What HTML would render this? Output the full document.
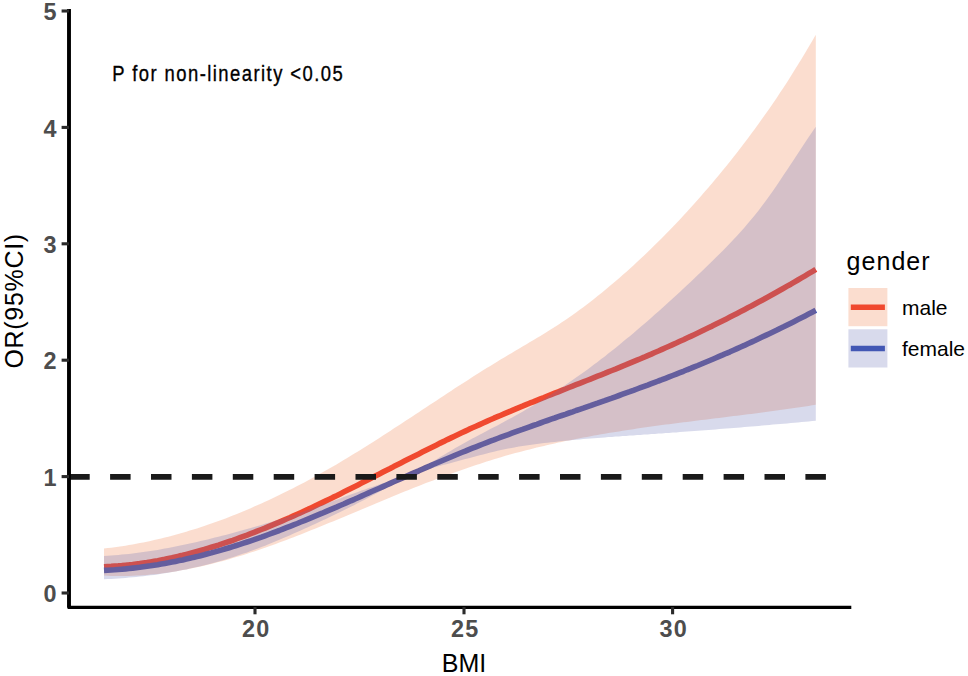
<!DOCTYPE html>
<html><head><meta charset="utf-8"><title>OR vs BMI</title>
<style>html,body{margin:0;padding:0;background:#fff;} svg{display:block;}</style>
</head><body>
<svg width="968" height="676" viewBox="0 0 968 676">
<rect width="968" height="676" fill="#fff"/>
<path d="M104.0,566.7 L107.6,566.5 L111.2,566.4 L114.7,566.1 L118.3,565.9 L121.9,565.6 L125.5,565.2 L129.0,564.9 L132.6,564.5 L136.2,564.0 L139.8,563.6 L143.3,563.0 L146.9,562.5 L150.5,561.9 L154.1,561.3 L157.7,560.7 L161.2,560.0 L164.8,559.3 L168.4,558.5 L172.0,557.8 L175.5,557.0 L179.1,556.1 L182.7,555.3 L186.3,554.4 L189.8,553.5 L193.4,552.5 L197.0,551.5 L200.6,550.5 L204.2,549.5 L207.7,548.4 L211.3,547.3 L214.9,546.2 L218.5,545.1 L222.0,543.9 L225.6,542.7 L229.2,541.5 L232.8,540.3 L236.3,539.0 L239.9,537.7 L243.5,536.4 L247.1,535.1 L250.7,533.7 L254.2,532.3 L257.8,530.9 L261.4,529.5 L265.0,528.1 L268.5,526.6 L272.1,525.1 L275.7,523.6 L279.3,522.1 L282.8,520.6 L286.4,519.0 L290.0,517.5 L293.6,515.9 L297.2,514.3 L300.7,512.7 L304.3,511.0 L307.9,509.4 L311.5,507.7 L315.0,506.0 L318.6,504.3 L322.2,502.6 L325.8,500.9 L329.3,499.2 L332.9,497.4 L336.5,495.7 L340.1,493.9 L343.7,492.1 L347.2,490.3 L350.8,488.5 L354.4,486.7 L358.0,484.9 L361.5,483.1 L365.1,481.3 L368.7,479.5 L372.3,477.6 L375.8,475.8 L379.4,474.0 L383.0,472.1 L386.6,470.3 L390.2,468.5 L393.7,466.6 L397.3,464.8 L400.9,463.0 L404.5,461.1 L408.0,459.3 L411.6,457.5 L415.2,455.7 L418.8,453.9 L422.3,452.1 L425.9,450.3 L429.5,448.5 L433.1,446.7 L436.7,444.9 L440.2,443.1 L443.8,441.4 L447.4,439.6 L451.0,437.9 L454.5,436.2 L458.1,434.5 L461.7,432.8 L465.3,431.1 L468.8,429.4 L472.4,427.8 L476.0,426.2 L479.6,424.6 L483.1,423.0 L486.7,421.4 L490.3,419.8 L493.9,418.2 L497.5,416.7 L501.0,415.2 L504.6,413.6 L508.2,412.1 L511.8,410.6 L515.3,409.1 L518.9,407.6 L522.5,406.2 L526.1,404.7 L529.6,403.2 L533.2,401.8 L536.8,400.3 L540.4,398.9 L544.0,397.5 L547.5,396.0 L551.1,394.6 L554.7,393.2 L558.3,391.8 L561.8,390.4 L565.4,389.0 L569.0,387.5 L572.6,386.1 L576.1,384.7 L579.7,383.3 L583.3,381.9 L586.9,380.5 L590.5,379.1 L594.0,377.7 L597.6,376.2 L601.2,374.8 L604.8,373.4 L608.3,371.9 L611.9,370.5 L615.5,369.1 L619.1,367.6 L622.6,366.1 L626.2,364.7 L629.8,363.2 L633.4,361.7 L637.0,360.2 L640.5,358.7 L644.1,357.2 L647.7,355.6 L651.3,354.1 L654.8,352.5 L658.4,351.0 L662.0,349.4 L665.6,347.8 L669.1,346.2 L672.7,344.6 L676.3,343.0 L679.9,341.3 L683.5,339.7 L687.0,338.0 L690.6,336.4 L694.2,334.7 L697.8,333.0 L701.3,331.3 L704.9,329.5 L708.5,327.8 L712.1,326.1 L715.6,324.3 L719.2,322.5 L722.8,320.7 L726.4,318.9 L730.0,317.1 L733.5,315.3 L737.1,313.4 L740.7,311.6 L744.3,309.7 L747.8,307.8 L751.4,306.0 L755.0,304.0 L758.6,302.1 L762.1,300.2 L765.7,298.2 L769.3,296.3 L772.9,294.3 L776.5,292.3 L780.0,290.3 L783.6,288.3 L787.2,286.2 L790.8,284.2 L794.3,282.1 L797.9,280.0 L801.5,277.9 L805.1,275.8 L808.6,273.7 L812.2,271.6 L815.8,269.4" fill="none" stroke="#F03A2A" stroke-width="5.6" stroke-linejoin="round"/>
<path d="M104.0,570.4 L107.6,570.2 L111.2,570.0 L114.7,569.8 L118.3,569.5 L121.9,569.2 L125.5,568.9 L129.0,568.5 L132.6,568.1 L136.2,567.7 L139.8,567.3 L143.3,566.8 L146.9,566.3 L150.5,565.8 L154.1,565.2 L157.7,564.7 L161.2,564.0 L164.8,563.4 L168.4,562.8 L172.0,562.1 L175.5,561.4 L179.1,560.6 L182.7,559.9 L186.3,559.1 L189.8,558.3 L193.4,557.4 L197.0,556.6 L200.6,555.7 L204.2,554.8 L207.7,553.8 L211.3,552.9 L214.9,551.9 L218.5,550.9 L222.0,549.9 L225.6,548.8 L229.2,547.7 L232.8,546.6 L236.3,545.5 L239.9,544.4 L243.5,543.2 L247.1,542.0 L250.7,540.8 L254.2,539.6 L257.8,538.3 L261.4,537.1 L265.0,535.8 L268.5,534.5 L272.1,533.2 L275.7,531.8 L279.3,530.5 L282.8,529.1 L286.4,527.7 L290.0,526.3 L293.6,524.9 L297.2,523.5 L300.7,522.0 L304.3,520.6 L307.9,519.1 L311.5,517.6 L315.0,516.2 L318.6,514.7 L322.2,513.2 L325.8,511.6 L329.3,510.1 L332.9,508.6 L336.5,507.1 L340.1,505.5 L343.7,504.0 L347.2,502.4 L350.8,500.8 L354.4,499.3 L358.0,497.7 L361.5,496.1 L365.1,494.5 L368.7,492.9 L372.3,491.3 L375.8,489.8 L379.4,488.2 L383.0,486.6 L386.6,485.0 L390.2,483.4 L393.7,481.8 L397.3,480.2 L400.9,478.6 L404.5,477.1 L408.0,475.5 L411.6,473.9 L415.2,472.3 L418.8,470.8 L422.3,469.2 L425.9,467.6 L429.5,466.1 L433.1,464.5 L436.7,463.0 L440.2,461.5 L443.8,460.0 L447.4,458.5 L451.0,457.0 L454.5,455.5 L458.1,454.0 L461.7,452.5 L465.3,451.1 L468.8,449.6 L472.4,448.2 L476.0,446.8 L479.6,445.4 L483.1,444.0 L486.7,442.6 L490.3,441.2 L493.9,439.9 L497.5,438.5 L501.0,437.2 L504.6,435.9 L508.2,434.6 L511.8,433.2 L515.3,431.9 L518.9,430.6 L522.5,429.4 L526.1,428.1 L529.6,426.8 L533.2,425.5 L536.8,424.3 L540.4,423.0 L544.0,421.7 L547.5,420.5 L551.1,419.2 L554.7,418.0 L558.3,416.7 L561.8,415.5 L565.4,414.3 L569.0,413.0 L572.6,411.8 L576.1,410.5 L579.7,409.3 L583.3,408.1 L586.9,406.8 L590.5,405.6 L594.0,404.3 L597.6,403.1 L601.2,401.8 L604.8,400.6 L608.3,399.3 L611.9,398.1 L615.5,396.8 L619.1,395.5 L622.6,394.2 L626.2,392.9 L629.8,391.7 L633.4,390.4 L637.0,389.0 L640.5,387.7 L644.1,386.4 L647.7,385.1 L651.3,383.7 L654.8,382.4 L658.4,381.0 L662.0,379.7 L665.6,378.3 L669.1,376.9 L672.7,375.5 L676.3,374.1 L679.9,372.7 L683.5,371.3 L687.0,369.8 L690.6,368.4 L694.2,366.9 L697.8,365.5 L701.3,364.0 L704.9,362.5 L708.5,361.0 L712.1,359.5 L715.6,358.0 L719.2,356.4 L722.8,354.9 L726.4,353.3 L730.0,351.8 L733.5,350.2 L737.1,348.6 L740.7,347.0 L744.3,345.4 L747.8,343.7 L751.4,342.1 L755.0,340.5 L758.6,338.8 L762.1,337.1 L765.7,335.4 L769.3,333.7 L772.9,332.0 L776.5,330.3 L780.0,328.5 L783.6,326.8 L787.2,325.0 L790.8,323.2 L794.3,321.4 L797.9,319.6 L801.5,317.8 L805.1,315.9 L808.6,314.1 L812.2,312.2 L815.8,310.3" fill="none" stroke="#3750B4" stroke-width="5.6" stroke-linejoin="round"/>
<path d="M104.0,548.5 L107.6,548.1 L111.2,547.7 L114.7,547.2 L118.3,546.7 L121.9,546.2 L125.5,545.7 L129.0,545.1 L132.6,544.5 L136.2,543.8 L139.8,543.1 L143.3,542.4 L146.9,541.7 L150.5,540.9 L154.1,540.1 L157.7,539.3 L161.2,538.5 L164.8,537.6 L168.4,536.7 L172.0,535.7 L175.5,534.8 L179.1,533.8 L182.7,532.8 L186.3,531.7 L189.8,530.6 L193.4,529.5 L197.0,528.4 L200.6,527.2 L204.2,526.0 L207.7,524.8 L211.3,523.6 L214.9,522.3 L218.5,521.0 L222.0,519.7 L225.6,518.4 L229.2,517.0 L232.8,515.6 L236.3,514.2 L239.9,512.7 L243.5,511.2 L247.1,509.7 L250.7,508.2 L254.2,506.6 L257.8,505.1 L261.4,503.5 L265.0,501.8 L268.5,500.2 L272.1,498.5 L275.7,496.8 L279.3,495.1 L282.8,493.3 L286.4,491.6 L290.0,489.8 L293.6,488.0 L297.2,486.1 L300.7,484.2 L304.3,482.4 L307.9,480.5 L311.5,478.5 L315.0,476.6 L318.6,474.6 L322.2,472.6 L325.8,470.6 L329.3,468.5 L332.9,466.5 L336.5,464.4 L340.1,462.3 L343.7,460.1 L347.2,458.0 L350.8,455.8 L354.4,453.6 L358.0,451.4 L361.5,449.2 L365.1,447.0 L368.7,444.7 L372.3,442.5 L375.8,440.2 L379.4,437.9 L383.0,435.6 L386.6,433.3 L390.2,431.0 L393.7,428.6 L397.3,426.3 L400.9,424.0 L404.5,421.6 L408.0,419.3 L411.6,416.9 L415.2,414.5 L418.8,412.2 L422.3,409.8 L425.9,407.5 L429.5,405.1 L433.1,402.7 L436.7,400.4 L440.2,398.0 L443.8,395.7 L447.4,393.3 L451.0,391.0 L454.5,388.6 L458.1,386.3 L461.7,384.0 L465.3,381.7 L468.8,379.4 L472.4,377.1 L476.0,374.8 L479.6,372.6 L483.1,370.3 L486.7,368.1 L490.3,365.9 L493.9,363.7 L497.5,361.5 L501.0,359.3 L504.6,357.2 L508.2,355.0 L511.8,352.9 L515.3,350.8 L518.9,348.7 L522.5,346.6 L526.1,344.5 L529.6,342.3 L533.2,340.2 L536.8,338.1 L540.4,335.9 L544.0,333.7 L547.5,331.5 L551.1,329.3 L554.7,327.0 L558.3,324.7 L561.8,322.3 L565.4,319.9 L569.0,317.5 L572.6,315.0 L576.1,312.4 L579.7,309.8 L583.3,307.2 L586.9,304.5 L590.5,301.7 L594.0,298.9 L597.6,296.1 L601.2,293.2 L604.8,290.3 L608.3,287.3 L611.9,284.3 L615.5,281.3 L619.1,278.2 L622.6,275.1 L626.2,271.9 L629.8,268.7 L633.4,265.4 L637.0,262.1 L640.5,258.8 L644.1,255.4 L647.7,252.0 L651.3,248.6 L654.8,245.1 L658.4,241.5 L662.0,237.9 L665.6,234.3 L669.1,230.7 L672.7,226.9 L676.3,223.2 L679.9,219.4 L683.5,215.6 L687.0,211.7 L690.6,207.7 L694.2,203.8 L697.8,199.8 L701.3,195.7 L704.9,191.6 L708.5,187.4 L712.1,183.2 L715.6,179.0 L719.2,174.7 L722.8,170.3 L726.4,165.9 L730.0,161.5 L733.5,157.0 L737.1,152.4 L740.7,147.8 L744.3,143.1 L747.8,138.4 L751.4,133.6 L755.0,128.8 L758.6,123.8 L762.1,118.8 L765.7,113.8 L769.3,108.7 L772.9,103.5 L776.5,98.2 L780.0,92.8 L783.6,87.4 L787.2,81.9 L790.8,76.3 L794.3,70.6 L797.9,64.8 L801.5,59.0 L805.1,53.1 L808.6,47.0 L812.2,40.9 L815.8,34.7 L815.8,404.7 L812.2,405.3 L808.6,405.9 L805.1,406.4 L801.5,407.0 L797.9,407.5 L794.3,408.0 L790.8,408.5 L787.2,409.1 L783.6,409.6 L780.0,410.1 L776.5,410.6 L772.9,411.1 L769.3,411.5 L765.7,412.0 L762.1,412.5 L758.6,412.9 L755.0,413.4 L751.4,413.9 L747.8,414.3 L744.3,414.8 L740.7,415.2 L737.1,415.7 L733.5,416.1 L730.0,416.6 L726.4,417.0 L722.8,417.4 L719.2,417.9 L715.6,418.3 L712.1,418.8 L708.5,419.2 L704.9,419.7 L701.3,420.1 L697.8,420.5 L694.2,421.0 L690.6,421.4 L687.0,421.9 L683.5,422.3 L679.9,422.8 L676.3,423.2 L672.7,423.7 L669.1,424.2 L665.6,424.6 L662.0,425.1 L658.4,425.6 L654.8,426.1 L651.3,426.6 L647.7,427.1 L644.1,427.6 L640.5,428.1 L637.0,428.6 L633.4,429.2 L629.8,429.7 L626.2,430.2 L622.6,430.8 L619.1,431.4 L615.5,431.9 L611.9,432.5 L608.3,433.1 L604.8,433.7 L601.2,434.3 L597.6,434.9 L594.0,435.6 L590.5,436.2 L586.9,436.9 L583.3,437.6 L579.7,438.2 L576.1,438.9 L572.6,439.7 L569.0,440.4 L565.4,441.1 L561.8,441.9 L558.3,442.6 L554.7,443.4 L551.1,444.2 L547.5,445.0 L544.0,445.9 L540.4,446.7 L536.8,447.6 L533.2,448.5 L529.6,449.4 L526.1,450.3 L522.5,451.2 L518.9,452.2 L515.3,453.1 L511.8,454.1 L508.2,455.1 L504.6,456.1 L501.0,457.2 L497.5,458.3 L493.9,459.3 L490.3,460.4 L486.7,461.6 L483.1,462.7 L479.6,463.9 L476.0,465.0 L472.4,466.2 L468.8,467.4 L465.3,468.7 L461.7,469.9 L458.1,471.2 L454.5,472.5 L451.0,473.7 L447.4,475.0 L443.8,476.4 L440.2,477.7 L436.7,479.0 L433.1,480.4 L429.5,481.8 L425.9,483.1 L422.3,484.5 L418.8,485.9 L415.2,487.3 L411.6,488.8 L408.0,490.2 L404.5,491.6 L400.9,493.1 L397.3,494.5 L393.7,496.0 L390.2,497.5 L386.6,499.0 L383.0,500.4 L379.4,501.9 L375.8,503.4 L372.3,504.9 L368.7,506.4 L365.1,507.9 L361.5,509.4 L358.0,510.9 L354.4,512.4 L350.8,513.9 L347.2,515.4 L343.7,516.9 L340.1,518.4 L336.5,519.9 L332.9,521.4 L329.3,522.8 L325.8,524.3 L322.2,525.8 L318.6,527.2 L315.0,528.7 L311.5,530.1 L307.9,531.6 L304.3,533.0 L300.7,534.4 L297.2,535.8 L293.6,537.2 L290.0,538.5 L286.4,539.9 L282.8,541.2 L279.3,542.6 L275.7,543.9 L272.1,545.2 L268.5,546.5 L265.0,547.7 L261.4,549.0 L257.8,550.2 L254.2,551.4 L250.7,552.6 L247.1,553.7 L243.5,554.9 L239.9,556.0 L236.3,557.1 L232.8,558.1 L229.2,559.2 L225.6,560.2 L222.0,561.2 L218.5,562.1 L214.9,563.0 L211.3,564.0 L207.7,564.8 L204.2,565.7 L200.6,566.5 L197.0,567.3 L193.4,568.1 L189.8,568.8 L186.3,569.5 L182.7,570.1 L179.1,570.8 L175.5,571.4 L172.0,571.9 L168.4,572.5 L164.8,573.0 L161.2,573.4 L157.7,573.9 L154.1,574.2 L150.5,574.6 L146.9,574.9 L143.3,575.2 L139.8,575.4 L136.2,575.6 L132.6,575.8 L129.0,575.9 L125.5,576.0 L121.9,576.0 L118.3,576.0 L114.7,576.0 L111.2,575.9 L107.6,575.8 L104.0,575.6 Z" fill="#EF773F" fill-opacity="0.25"/>
<path d="M104.0,555.9 L107.6,555.7 L111.2,555.5 L114.7,555.2 L118.3,554.9 L121.9,554.6 L125.5,554.3 L129.0,553.9 L132.6,553.5 L136.2,553.1 L139.8,552.6 L143.3,552.1 L146.9,551.6 L150.5,551.0 L154.1,550.5 L157.7,549.9 L161.2,549.2 L164.8,548.6 L168.4,547.9 L172.0,547.2 L175.5,546.5 L179.1,545.8 L182.7,545.1 L186.3,544.3 L189.8,543.5 L193.4,542.7 L197.0,541.9 L200.6,541.1 L204.2,540.2 L207.7,539.4 L211.3,538.5 L214.9,537.6 L218.5,536.7 L222.0,535.8 L225.6,534.9 L229.2,533.9 L232.8,533.0 L236.3,532.0 L239.9,531.0 L243.5,530.0 L247.1,529.0 L250.7,528.0 L254.2,527.0 L257.8,525.9 L261.4,524.9 L265.0,523.8 L268.5,522.7 L272.1,521.7 L275.7,520.6 L279.3,519.5 L282.8,518.3 L286.4,517.2 L290.0,516.0 L293.6,514.9 L297.2,513.7 L300.7,512.5 L304.3,511.3 L307.9,510.0 L311.5,508.8 L315.0,507.5 L318.6,506.2 L322.2,505.0 L325.8,503.7 L329.3,502.4 L332.9,501.1 L336.5,499.8 L340.1,498.4 L343.7,497.1 L347.2,495.8 L350.8,494.5 L354.4,493.2 L358.0,491.9 L361.5,490.6 L365.1,489.4 L368.7,488.1 L372.3,486.9 L375.8,485.7 L379.4,484.5 L383.0,483.3 L386.6,482.2 L390.2,481.0 L393.7,479.8 L397.3,478.6 L400.9,477.3 L404.5,475.9 L408.0,474.4 L411.6,472.8 L415.2,471.1 L418.8,469.3 L422.3,467.4 L425.9,465.4 L429.5,463.4 L433.1,461.3 L436.7,459.2 L440.2,457.1 L443.8,455.0 L447.4,452.8 L451.0,450.7 L454.5,448.6 L458.1,446.6 L461.7,444.5 L465.3,442.5 L468.8,440.5 L472.4,438.6 L476.0,436.7 L479.6,434.8 L483.1,432.9 L486.7,431.0 L490.3,429.1 L493.9,427.3 L497.5,425.4 L501.0,423.5 L504.6,421.6 L508.2,419.6 L511.8,417.7 L515.3,415.7 L518.9,413.7 L522.5,411.7 L526.1,409.6 L529.6,407.6 L533.2,405.4 L536.8,403.3 L540.4,401.1 L544.0,398.9 L547.5,396.7 L551.1,394.4 L554.7,392.1 L558.3,389.8 L561.8,387.4 L565.4,385.0 L569.0,382.6 L572.6,380.1 L576.1,377.6 L579.7,375.1 L583.3,372.5 L586.9,369.9 L590.5,367.2 L594.0,364.6 L597.6,361.9 L601.2,359.1 L604.8,356.4 L608.3,353.6 L611.9,350.7 L615.5,347.9 L619.1,345.0 L622.6,342.1 L626.2,339.1 L629.8,336.2 L633.4,333.2 L637.0,330.1 L640.5,327.1 L644.1,324.0 L647.7,320.9 L651.3,317.8 L654.8,314.6 L658.4,311.4 L662.0,308.2 L665.6,305.0 L669.1,301.8 L672.7,298.5 L676.3,295.2 L679.9,291.9 L683.5,288.6 L687.0,285.2 L690.6,281.9 L694.2,278.5 L697.8,275.1 L701.3,271.7 L704.9,268.2 L708.5,264.8 L712.1,261.3 L715.6,257.8 L719.2,254.3 L722.8,250.7 L726.4,247.0 L730.0,243.3 L733.5,239.6 L737.1,235.7 L740.7,231.8 L744.3,227.7 L747.8,223.6 L751.4,219.3 L755.0,214.9 L758.6,210.4 L762.1,205.7 L765.7,200.9 L769.3,195.9 L772.9,190.9 L776.5,185.7 L780.0,180.5 L783.6,175.1 L787.2,169.8 L790.8,164.3 L794.3,158.9 L797.9,153.5 L801.5,148.0 L805.1,142.6 L808.6,137.2 L812.2,131.9 L815.8,126.7 L815.8,420.7 L812.2,421.0 L808.6,421.4 L805.1,421.7 L801.5,422.0 L797.9,422.4 L794.3,422.7 L790.8,423.0 L787.2,423.4 L783.6,423.7 L780.0,424.0 L776.5,424.3 L772.9,424.6 L769.3,424.9 L765.7,425.2 L762.1,425.6 L758.6,425.9 L755.0,426.2 L751.4,426.5 L747.8,426.8 L744.3,427.1 L740.7,427.4 L737.1,427.7 L733.5,427.9 L730.0,428.2 L726.4,428.5 L722.8,428.8 L719.2,429.1 L715.6,429.4 L712.1,429.7 L708.5,429.9 L704.9,430.2 L701.3,430.5 L697.8,430.8 L694.2,431.0 L690.6,431.3 L687.0,431.6 L683.5,431.8 L679.9,432.1 L676.3,432.4 L672.7,432.6 L669.1,432.9 L665.6,433.1 L662.0,433.4 L658.4,433.6 L654.8,433.9 L651.3,434.1 L647.7,434.4 L644.1,434.6 L640.5,434.9 L637.0,435.1 L633.4,435.4 L629.8,435.6 L626.2,435.9 L622.6,436.1 L619.1,436.4 L615.5,436.6 L611.9,436.9 L608.3,437.1 L604.8,437.4 L601.2,437.7 L597.6,437.9 L594.0,438.2 L590.5,438.5 L586.9,438.8 L583.3,439.1 L579.7,439.4 L576.1,439.7 L572.6,440.0 L569.0,440.4 L565.4,440.7 L561.8,441.1 L558.3,441.5 L554.7,441.9 L551.1,442.3 L547.5,442.7 L544.0,443.1 L540.4,443.5 L536.8,444.0 L533.2,444.5 L529.6,445.0 L526.1,445.5 L522.5,446.0 L518.9,446.6 L515.3,447.2 L511.8,447.9 L508.2,448.6 L504.6,449.3 L501.0,450.0 L497.5,450.8 L493.9,451.7 L490.3,452.5 L486.7,453.4 L483.1,454.4 L479.6,455.3 L476.0,456.3 L472.4,457.2 L468.8,458.2 L465.3,459.1 L461.7,460.1 L458.1,461.1 L454.5,462.0 L451.0,463.0 L447.4,463.9 L443.8,464.8 L440.2,465.7 L436.7,466.7 L433.1,467.7 L429.5,468.7 L425.9,469.8 L422.3,471.0 L418.8,472.2 L415.2,473.6 L411.6,475.0 L408.0,476.5 L404.5,478.2 L400.9,480.0 L397.3,481.8 L393.7,483.7 L390.2,485.7 L386.6,487.7 L383.0,489.7 L379.4,491.7 L375.8,493.7 L372.3,495.6 L368.7,497.5 L365.1,499.4 L361.5,501.3 L358.0,503.1 L354.4,504.9 L350.8,506.7 L347.2,508.5 L343.7,510.3 L340.1,512.0 L336.5,513.8 L332.9,515.5 L329.3,517.2 L325.8,518.9 L322.2,520.6 L318.6,522.3 L315.0,523.9 L311.5,525.6 L307.9,527.2 L304.3,528.8 L300.7,530.5 L297.2,532.1 L293.6,533.6 L290.0,535.2 L286.4,536.8 L282.8,538.3 L279.3,539.8 L275.7,541.3 L272.1,542.8 L268.5,544.2 L265.0,545.7 L261.4,547.1 L257.8,548.4 L254.2,549.8 L250.7,551.1 L247.1,552.4 L243.5,553.6 L239.9,554.8 L236.3,556.0 L232.8,557.2 L229.2,558.3 L225.6,559.4 L222.0,560.5 L218.5,561.5 L214.9,562.5 L211.3,563.5 L207.7,564.4 L204.2,565.3 L200.6,566.2 L197.0,567.0 L193.4,567.8 L189.8,568.6 L186.3,569.4 L182.7,570.1 L179.1,570.8 L175.5,571.5 L172.0,572.1 L168.4,572.7 L164.8,573.3 L161.2,573.8 L157.7,574.4 L154.1,574.9 L150.5,575.3 L146.9,575.8 L143.3,576.2 L139.8,576.6 L136.2,577.0 L132.6,577.3 L129.0,577.6 L125.5,577.9 L121.9,578.2 L118.3,578.5 L114.7,578.7 L111.2,578.9 L107.6,579.1 L104.0,579.2 Z" fill="#636BB3" fill-opacity="0.25"/>
<line x1="69.2" y1="476.9" x2="826.5" y2="476.9" stroke="#1A1A1A" stroke-width="5.6" stroke-dasharray="20.5 20.4"/>
<line x1="69" y1="9" x2="69" y2="607.8" stroke="#000" stroke-width="3.9"/>
<line x1="67.6" y1="607.4" x2="851.3" y2="607.4" stroke="#000" stroke-width="3.2"/>
<line x1="61.6" y1="593.0" x2="69" y2="593.0" stroke="#2a2a2a" stroke-width="3.1"/>
<text x="56.4" y="602.1" text-anchor="end" font-family='"Liberation Sans", sans-serif' font-weight="bold" font-size="23.4" fill="#4D4D4D">0</text>
<line x1="61.6" y1="476.6" x2="69" y2="476.6" stroke="#2a2a2a" stroke-width="3.1"/>
<text x="56.4" y="485.7" text-anchor="end" font-family='"Liberation Sans", sans-serif' font-weight="bold" font-size="23.4" fill="#4D4D4D">1</text>
<line x1="61.6" y1="360.2" x2="69" y2="360.2" stroke="#2a2a2a" stroke-width="3.1"/>
<text x="56.4" y="369.3" text-anchor="end" font-family='"Liberation Sans", sans-serif' font-weight="bold" font-size="23.4" fill="#4D4D4D">2</text>
<line x1="61.6" y1="243.8" x2="69" y2="243.8" stroke="#2a2a2a" stroke-width="3.1"/>
<text x="56.4" y="252.9" text-anchor="end" font-family='"Liberation Sans", sans-serif' font-weight="bold" font-size="23.4" fill="#4D4D4D">3</text>
<line x1="61.6" y1="127.4" x2="69" y2="127.4" stroke="#2a2a2a" stroke-width="3.1"/>
<text x="56.4" y="136.5" text-anchor="end" font-family='"Liberation Sans", sans-serif' font-weight="bold" font-size="23.4" fill="#4D4D4D">4</text>
<line x1="61.6" y1="11.0" x2="69" y2="11.0" stroke="#2a2a2a" stroke-width="3.1"/>
<text x="56.4" y="20.1" text-anchor="end" font-family='"Liberation Sans", sans-serif' font-weight="bold" font-size="23.4" fill="#4D4D4D">5</text>
<line x1="255.0" y1="607" x2="255.0" y2="614.3" stroke="#2a2a2a" stroke-width="3.1"/>
<text x="256.2" y="636.8" text-anchor="middle" letter-spacing="1.2" font-family='"Liberation Sans", sans-serif' font-weight="bold" font-size="23.4" fill="#4D4D4D">20</text>
<line x1="464.0" y1="607" x2="464.0" y2="614.3" stroke="#2a2a2a" stroke-width="3.1"/>
<text x="465.2" y="636.8" text-anchor="middle" letter-spacing="1.2" font-family='"Liberation Sans", sans-serif' font-weight="bold" font-size="23.4" fill="#4D4D4D">25</text>
<line x1="672.6" y1="607" x2="672.6" y2="614.3" stroke="#2a2a2a" stroke-width="3.1"/>
<text x="673.8000000000001" y="636.8" text-anchor="middle" letter-spacing="1.2" font-family='"Liberation Sans", sans-serif' font-weight="bold" font-size="23.4" fill="#4D4D4D">30</text>
<text x="464" y="671.5" text-anchor="middle" font-family='"Liberation Sans", sans-serif' font-size="25" fill="#000">BMI</text>
<text transform="translate(23.2,301.2) rotate(-90)" x="0" y="0" text-anchor="middle" font-family='"Liberation Sans", sans-serif' font-size="25" textLength="134.8" lengthAdjust="spacing" fill="#000">OR(95%CI)</text>
<text transform="translate(112.2,81.3) scale(0.83,1)" x="0" y="0" font-family='"Liberation Sans", sans-serif' font-size="22.2" letter-spacing="1.75" stroke="#000" stroke-width="0.35" fill="#000">P for non-linearity &lt;0.05</text>
<text x="846.6" y="269.8" font-family='"Liberation Sans", sans-serif' font-size="25" textLength="83" lengthAdjust="spacing" fill="#000">gender</text>
<rect x="848.4" y="288.0" width="39" height="38.2" fill="#fff"/>
<line x1="850.8" y1="307.2" x2="884.9" y2="307.2" stroke="#F03A2A" stroke-width="5.6"/>
<rect x="848.4" y="288.0" width="39" height="38.2" fill="#EF773F" fill-opacity="0.25"/>
<text x="902" y="314.7" font-family='"Liberation Sans", sans-serif' font-size="21" fill="#000">male</text>
<rect x="848.4" y="329.3" width="39" height="38.2" fill="#fff"/>
<line x1="850.8" y1="348.5" x2="884.9" y2="348.5" stroke="#3750B4" stroke-width="5.6"/>
<rect x="848.4" y="329.3" width="39" height="38.2" fill="#636BB3" fill-opacity="0.25"/>
<text x="902" y="356.0" font-family='"Liberation Sans", sans-serif' font-size="21" fill="#000">female</text>
</svg>
</body></html>
